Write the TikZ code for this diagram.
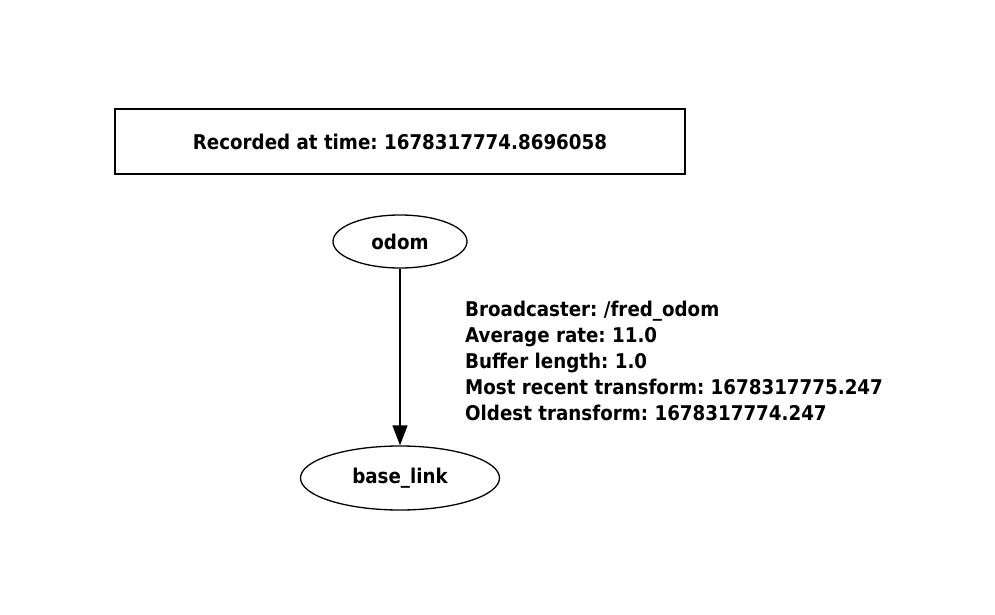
\documentclass[tikz,border=0pt]{standalone}
\usepackage{fontspec}
\setmainfont{DejaVu Sans Condensed}
\usetikzlibrary{shapes.geometric,arrows.meta}
\begin{document}
\frenchspacing
\begin{tikzpicture}[x=1pt,y=-1pt,
  lbl/.style={font=\bfseries\fontsize{20.3}{26}\selectfont},
  ell/.style={draw,ellipse,line width=1.3pt,inner sep=0pt},
  link/.style={draw,line width=1.3pt,-{Triangle[length=20pt,width=15pt]}}]
\useasboundingbox[fill=white] (0,0) rectangle (995,615);
\node[draw,line width=1.3pt,minimum width=570pt,minimum height=65pt,lbl] (rec) at (400,141.5) {Recorded at time: 1678317774.8696058};
\node[ell,minimum width=134pt,minimum height=53pt,lbl] (odom) at (400,241.5) {odom};
\node[ell,minimum width=199pt,minimum height=64pt,lbl] (base) at (400,478) {base\_link};
\draw[link] (odom) -- (base);
\node[lbl,anchor=base west,align=left,inner sep=0pt] (info) at (465,420) {Broadcaster: /fred\_odom\\Average rate: 11.0\\Buffer length: 1.0\\Most recent transform: 1678317775.247\\Oldest transform: 1678317774.247};
\end{tikzpicture}
\end{document}
